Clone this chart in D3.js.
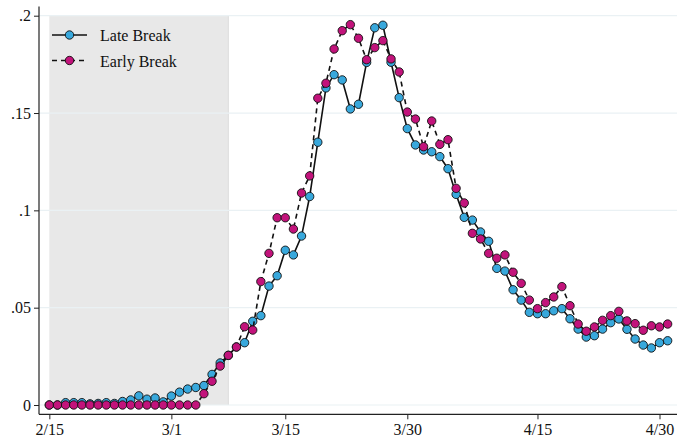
<!DOCTYPE html>
<html>
<head>
<meta charset="utf-8">
<script src="https://cdn.jsdelivr.net/npm/d3@7"></script>
<style>
  html, body { margin: 0; padding: 0; background: #ffffff; }
  svg { display: block; }
  .tick text { font-family: "Liberation Serif", "DejaVu Serif", serif; }
</style>
</head>
<body>
<svg id="chart" width="677" height="437"></svg>
<script>
// Daily series, 2020-02-15 through 2020-05-01
const startDate = new Date(Date.UTC(2020, 1, 15));

const lateBreak = [
  0, 0, 0.0012, 0.0012, 0.0012, 0.0006, 0.0008, 0.0012, 0.0008, 0.0018,
  0.0026, 0.0047, 0.0030, 0.0036, 0.0016, 0.0046, 0.0066, 0.0082, 0.0090, 0.0100,
  0.0157, 0.0216, 0.0255, 0.0298, 0.0320, 0.0430, 0.0459, 0.0611, 0.0664, 0.0795,
  0.0771, 0.0868, 0.1071, 0.1350, 0.1629, 0.1697, 0.1670, 0.1521, 0.1545, 0.1760,
  0.1938, 0.1951, 0.1761, 0.1579, 0.1420, 0.1336, 0.1310, 0.1301, 0.1276, 0.1214,
  0.1082, 0.0964, 0.0950, 0.0889, 0.0841, 0.0702, 0.0688, 0.0592, 0.0539, 0.0476,
  0.0469, 0.0469, 0.0484, 0.0495, 0.0443, 0.0390, 0.0349, 0.0356, 0.0390, 0.0423,
  0.0442, 0.0389, 0.0339, 0.0308, 0.0293, 0.0320, 0.0330
];

const earlyBreak = [
  0, 0, 0, 0, 0, 0, 0, 0, 0, 0,
  0, 0, 0, 0, 0, 0, 0, 0, 0, 0.0058,
  0.0122, 0.0200, 0.0255, 0.0298, 0.0402, 0.0385, 0.0634, 0.0779, 0.0962, 0.0962,
  0.0904, 0.1089, 0.1177, 0.1576, 0.1653, 0.1829, 0.1923, 0.1954, 0.1884, 0.1774,
  0.1836, 0.1872, 0.1778, 0.1711, 0.1505, 0.1469, 0.1327, 0.1459, 0.1339, 0.1363,
  0.1113, 0.1038, 0.0882, 0.0853, 0.0779, 0.0754, 0.0771, 0.0682, 0.0625, 0.0539,
  0.0495, 0.0526, 0.0555, 0.0608, 0.0510, 0.0416, 0.0379, 0.0401, 0.0435, 0.0459,
  0.0481, 0.0432, 0.0418, 0.0384, 0.0407, 0.0401, 0.0416
];

const seriesNames = ["Late Break", "Early Break"];
const seriesColors = ["#38a8dc", "#c2137b"];

const xTickDates = ["2020-02-15", "2020-03-01", "2020-03-15", "2020-03-30", "2020-04-15", "2020-04-30"];
const xTickLabels = ["2/15", "3/1", "3/15", "3/30", "4/15", "4/30"];
const yTickValues = [0, 0.05, 0.1, 0.15, 0.2];
const yTickLabels = ["0", ".05", ".1", ".15", ".2"];

// shaded pre-break window
const shadeStart = "2020-02-15";
const shadeEnd = "2020-03-08";

const dates = lateBreak.map((_, i) => d3.utcDay.offset(startDate, i));
const parse = d3.utcParse("%Y-%m-%d");

const svg = d3.select("#chart");

const dayMs = 86400000;
const x = d3.scaleUtc()
  .domain([new Date(startDate.getTime() - 1.27 * dayMs), new Date(startDate.getTime() + 77.15 * dayMs)])
  .range([39, 677]);
const y = d3.scaleLinear().domain([0, 0.2]).range([405, 15.7]);

const axisY = 414.3;
const axisX = 39;

// shaded region
svg.append("rect")
  .attr("x", x(parse(shadeStart)))
  .attr("y", y(0.2))
  .attr("width", x(parse(shadeEnd)) - x(parse(shadeStart)))
  .attr("height", y(0) - y(0.2))
  .attr("fill", "#e8e8e8");
svg.append("line")
  .attr("x1", x(parse(shadeEnd))).attr("x2", x(parse(shadeEnd)))
  .attr("y1", y(0.2)).attr("y2", y(0))
  .attr("stroke", "#dcdcdc").attr("stroke-width", 1);

// horizontal gridlines
svg.append("g")
  .selectAll("line")
  .data(yTickValues)
  .join("line")
  .attr("x1", axisX).attr("x2", 677)
  .attr("y1", d => y(d)).attr("y2", d => y(d))
  .attr("stroke", "#eaf1f4").attr("stroke-width", 1.2);

// y axis
const gy = svg.append("g")
  .attr("transform", `translate(${axisX},0)`)
  .call(d3.axisLeft(y).tickValues(yTickValues)
    .tickFormat((d, i) => yTickLabels[i]).tickSize(5).tickPadding(3));
gy.select(".domain").remove();
gy.selectAll(".tick line").attr("stroke", "#222");
gy.selectAll(".tick text").attr("font-size", 16).attr("fill", "#111");
svg.append("line")
  .attr("x1", axisX).attr("x2", axisX)
  .attr("y1", 6.5).attr("y2", axisY)
  .attr("stroke", "#222").attr("stroke-width", 1.2);

// x axis
const gx = svg.append("g")
  .attr("transform", `translate(0,${axisY})`)
  .call(d3.axisBottom(x).tickValues(xTickDates.map(parse))
    .tickFormat((d, i) => xTickLabels[i]).tickSize(5).tickPadding(4));
gx.select(".domain").remove();
gx.selectAll(".tick line").attr("stroke", "#222");
gx.selectAll(".tick text").attr("font-size", 16).attr("fill", "#111");
svg.append("line")
  .attr("x1", axisX).attr("x2", 677)
  .attr("y1", axisY).attr("y2", axisY)
  .attr("stroke", "#222").attr("stroke-width", 1.2);

const line = d3.line()
  .x((d, i) => x(dates[i]))
  .y(d => y(d));

const allSeries = [lateBreak, earlyBreak];
const dashes = [null, "5,4"];

allSeries.forEach((vals, s) => {
  svg.append("path")
    .datum(vals)
    .attr("d", line)
    .attr("fill", "none")
    .attr("stroke", "#111")
    .attr("stroke-width", 1.6)
    .attr("stroke-dasharray", dashes[s]);
  svg.append("g")
    .selectAll("circle")
    .data(vals)
    .join("circle")
    .attr("cx", (d, i) => x(dates[i]))
    .attr("cy", d => y(d))
    .attr("r", 4.2)
    .attr("fill", seriesColors[s])
    .attr("stroke", "#111")
    .attr("stroke-width", 0.9);
});

// legend
const legend = svg.append("g");
seriesNames.forEach((name, s) => {
  const ly = 35 + s * 25.5;
  legend.append("line")
    .attr("x1", 52).attr("x2", 87)
    .attr("y1", ly).attr("y2", ly)
    .attr("stroke", "#111").attr("stroke-width", 1.6)
    .attr("stroke-dasharray", dashes[s]);
  legend.append("circle")
    .attr("cx", 69.5).attr("cy", ly).attr("r", 4.2)
    .attr("fill", seriesColors[s])
    .attr("stroke", "#111").attr("stroke-width", 0.9);
  legend.append("text")
    .attr("x", 100).attr("y", ly + 6)
    .attr("font-family", '"Liberation Serif", "DejaVu Serif", serif')
    .attr("font-size", 16)
    .attr("fill", "#111")
    .text(name);
});
</script>
</body>
</html>
